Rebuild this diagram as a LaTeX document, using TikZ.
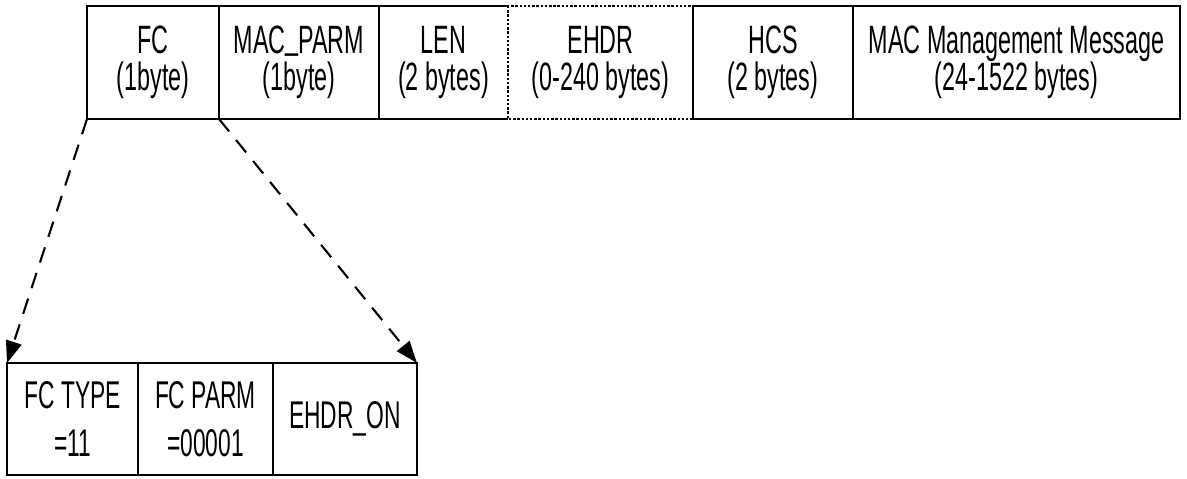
\documentclass[tikz,border=0pt]{standalone}
\usepackage{fontspec}
\setmainfont{Liberation Sans}[FakeStretch=0.59]
\usetikzlibrary{arrows.meta, positioning}

\begin{document}
\begin{tikzpicture}[x=0.2mm, y=-0.2mm,
  every node/.style={font=\fontsize{22.5}{21}\selectfont},
  hdr/.style={minimum height=22.6mm, inner sep=0pt, outer sep=0pt, align=center},
  part/.style={draw, line width=1.4pt, minimum height=22.4mm, inner sep=0pt, outer sep=0pt, align=center,
    font=\fontsize{22}{27}\selectfont},
  rule/.style={line width=1.4pt},
  zoomline/.style={line width=1.2pt, dash pattern=on 3.2mm off 2.2mm, -{Triangle[length=4.4mm, width=3.2mm]}}]
  \useasboundingbox (0,0) rectangle (1187,478);

  % MAC header fields
  \node[hdr, minimum width=26.4mm, anchor=north west] (fc) at (87,6) {FC\\(1byte)};
  \node[hdr, minimum width=32mm, right=0pt of fc] (parm) {MAC\raisebox{3pt}{\_}PARM\\(1byte)};
  \node[hdr, minimum width=25.8mm, right=0pt of parm] (len) {LEN\\(2 bytes)};
  \node[hdr, minimum width=37mm, right=0pt of len] (ehdr) {EHDR\\(0-240 bytes)};
  \node[hdr, minimum width=32mm, right=0pt of ehdr] (hcs) {HCS\\(2 bytes)};
  \node[hdr, minimum width=65.4mm, right=0pt of hcs] (msg) {MAC Management Message\\(24-1522 bytes)};

  \draw[rule] (ehdr.north west) -- (fc.north west) -- (fc.south west) -- (ehdr.south west);
  \draw[rule] (fc.north east) -- (fc.south east) (parm.north east) -- (parm.south east);
  \draw[rule, densely dotted] (ehdr.north west) rectangle (ehdr.south east);
  \draw[rule] (ehdr.north east) -- (msg.north east) -- (msg.south east) -- (ehdr.south east) -- cycle;
  \draw[rule] (hcs.north east) -- (hcs.south east);

  % FC byte
  \node[part, minimum width=26.2mm, anchor=north west] (fctype) at (7,363) {FC TYPE\\=11};
  \node[part, minimum width=27mm, right=0pt of fctype] (fcparm) {FC PARM\\=00001};
  \node[part, minimum width=28.8mm, right=0pt of fcparm] (ehdron) {EHDR\_ON};

  \draw[zoomline] (fc.south west) -- (fctype.north west);
  \draw[zoomline] (fc.south east) -- (ehdron.north east);
\end{tikzpicture}
\end{document}
